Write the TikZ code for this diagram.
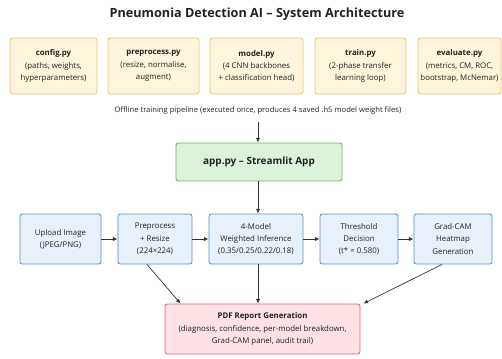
\documentclass[tikz,border=0pt]{standalone}
\usepackage{fontspec}
\setmainfont{Open Sans}
\usetikzlibrary{positioning,arrows.meta,calc}
\definecolor{modfill}{HTML}{FFF4DC}
\definecolor{moddraw}{HTML}{F2C46E}
\definecolor{appfill}{HTML}{DDF2DA}
\definecolor{appdraw}{HTML}{6CB46C}
\definecolor{stepfill}{HTML}{E8F1FB}
\definecolor{stepdraw}{HTML}{5A8FD0}
\definecolor{pdffill}{HTML}{FDE1E5}
\definecolor{pdfdraw}{HTML}{DD6677}
\definecolor{conn}{HTML}{333333}
\definecolor{ink}{HTML}{222222}

\begin{document}
\begin{tikzpicture}[x=.03cm,y=-.03cm,
  box/.style={rounded corners=2pt,line width=.75pt,text=ink,align=center,font=\fontsize{6.7}{10.5}\selectfont,inner sep=1pt},
  modbox/.style={box,draw=moddraw,fill=modfill,minimum height=1.68cm},
  appbox/.style={box,draw=appdraw,fill=appfill,minimum height=1.14cm,minimum width=4.98cm,font=\fontsize{8.5}{11}\selectfont\bfseries},
  stepbox/.style={box,draw=stepdraw,fill=stepfill,minimum height=1.5cm},
  pdfbox/.style={box,draw=pdfdraw,fill=pdffill,minimum height=1.5cm,minimum width=5.85cm},
  flow/.style={-{Latex[length=4pt,width=3.5pt]},conn,line width=.6pt}]
\useasboundingbox (0,0) rectangle (502,358);
\node[font=\fontsize{10.8}{13}\selectfont\bfseries,text=ink] (title) at (257,14){Pneumonia Detection AI -- System Architecture};
% offline training modules
\node[modbox,minimum width=2.61cm] (config) at (53.5,66){\textbf{config.py}\\(paths, weights,\\hyperparameters)};
\node[modbox,minimum width=2.73cm] (prep) at (153.5,66){\textbf{preprocess.py}\\(resize, normalise,\\augment)};
\node[modbox,minimum width=2.79cm] (model) at (256.5,66){\textbf{model.py}\\(4 CNN backbones\\+ classification head)};
\node[modbox,minimum width=2.73cm] (train) at (360.5,66){\textbf{train.py}\\(2-phase transfer\\learning loop)};
\node[modbox,minimum width=2.49cm] (eval) at (459.5,66){\textbf{evaluate.py}\\(metrics, CM, ROC,\\bootstrap, McNemar)};
\node[text=ink,font=\fontsize{6.5}{8}\selectfont] (offline) at (258,110){Offline training pipeline (executed once, produces 4 saved .h5 model weight files)};
\coordinate (weights) at (258,122);
% streamlit app
\node[appbox] (app) at (259,162){app.py -- Streamlit App};
\draw[flow] (weights)--(weights |- app.north);
% inference steps
\node[stepbox,minimum width=2.43cm] (upload) at (60.5,239){Upload Image\\(JPEG/PNG)};
\node[stepbox,minimum width=2.22cm] (resize) at (155,239){Preprocess\\+ Resize\\(224×224)};
\node[stepbox,minimum width=2.82cm] (infer) at (256,239){4-Model\\Weighted Inference\\(0.35/0.25/0.22/0.18)};
\node[stepbox,minimum width=2.34cm] (thresh) at (359,239){Threshold\\Decision\\(t* = 0.580)};
\node[stepbox,minimum width=2.34cm] (gradcam) at (453,239){Grad-CAM\\Heatmap\\Generation};
\draw[flow] (app.south -| weights)--(weights |- infer.north);
\draw[flow] (upload)--(resize);\draw[flow] (resize)--(infer);\draw[flow] (infer)--(thresh);\draw[flow] (thresh)--(gradcam);
% report
\node[pdfbox] (pdf) at (262.5,329){\textbf{PDF Report Generation}\\(diagnosis, confidence, per-model breakdown,\\Grad-CAM panel, audit trail)};
\draw[flow] ($(resize.south)+(-8,0)$)--($(pdf.north west)+(16,0)$);
\draw[flow] (infer.south -| weights)--(weights |- pdf.north);
\draw[flow] ($(gradcam.south)+(-11,0)$)--($(pdf.north east)+(3,0)$);
\end{tikzpicture}
\end{document}
